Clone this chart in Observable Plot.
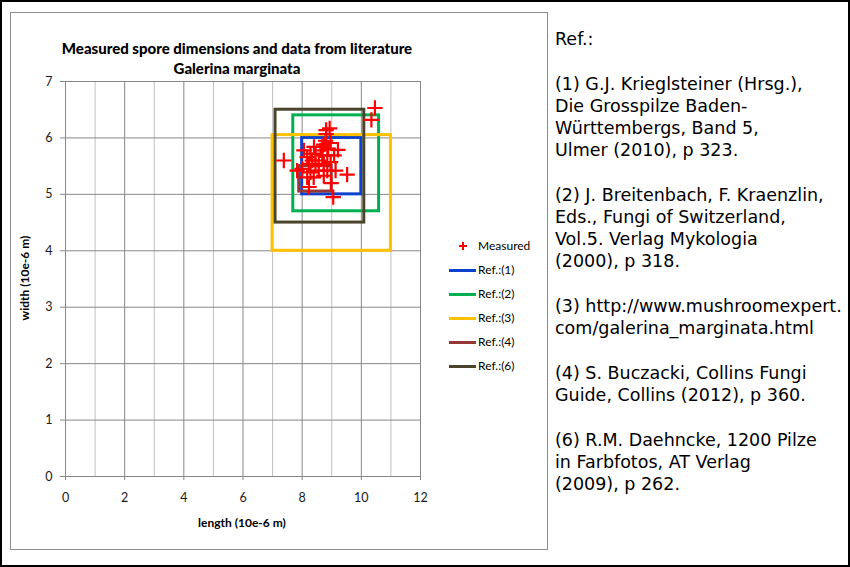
<!DOCTYPE html>
<html><head><meta charset="utf-8">
<script src="https://cdn.jsdelivr.net/npm/d3@7"></script>
<script src="https://cdn.jsdelivr.net/npm/@observablehq/plot@0.6"></script>
<style>
body{margin:0;background:#fff;}
#page{position:relative;width:850px;height:567px;overflow:hidden;background:#fff;font-family:Lato,sans-serif;color:#000;}
#outer{position:absolute;left:0;top:0;width:850px;height:567px;box-sizing:border-box;border:2px solid #000;}
#panel{position:absolute;left:10px;top:12px;width:538px;height:538px;box-sizing:border-box;border:1px solid #8c8c8c;}
#chart{position:absolute;left:10px;top:12px;}
#title{position:absolute;left:37px;top:38px;width:400px;text-align:center;font-weight:900;font-size:15px;line-height:20px;}
#xlab{position:absolute;left:142px;top:515px;width:200px;text-align:center;font-weight:bold;font-size:12px;line-height:16px;}
#ylab{position:absolute;left:-75px;top:270px;width:200px;text-align:center;font-weight:bold;font-size:12px;line-height:16px;transform:rotate(-90deg);}
.li{position:absolute;left:440px;height:16px;line-height:16px;font-size:12px;white-space:nowrap;}
.li .t{position:absolute;left:38px;top:0;}
.li .ln{position:absolute;left:9px;top:7px;width:27px;height:3px;}
.li .ph{position:absolute;left:19px;top:7px;width:8px;height:2px;background:#ff0000;}
.li .pv{position:absolute;left:22px;top:4px;width:2px;height:8px;background:#ff0000;}
#refs{position:absolute;left:555px;top:28px;font-family:"DejaVu Sans",Verdana,sans-serif;font-size:17.5px;line-height:22px;white-space:nowrap;color:#000;}
#refs p{margin:0 0 23px 0;}
</style></head>
<body><div id="page">
<div id="outer"></div>
<div id="panel"></div>
<div id="chart"></div>
<div id="title">Measured spore dimensions and data from literature<br>Galerina marginata</div>
<div id="xlab">length (10e-6 m)</div>
<div id="ylab">width (10e-6 m)</div>
<div id="legend"></div>
<div id="refs"></div>
</div>
<script>
// Measured spores (length, width in 10e-6 m)
const measuredLength = [10.46,10.34,8.81,8.93,8.81,8.73,8.96,8.88,9.21,8.68,8.45,8.68,8.85,8.17,8.06,8.34,8.56,8.23,8.45,8.73,8.96,9.13,8.85,8.56,8.28,8.00,7.83,8.17,8.39,8.73,9.52,7.38,8.23,8.98,9.05,8.62,8.40,8.28,9.08,8.79];
const measuredWidth  = [6.53,6.32,6.14,6.17,6.07,5.88,5.91,5.81,5.79,5.84,5.72,5.69,5.69,5.66,5.78,5.60,5.60,5.54,5.51,5.54,5.57,5.42,5.42,5.42,5.39,5.45,5.42,5.30,5.30,5.33,5.35,5.60,5.13,5.20,4.95,5.78,5.84,5.72,5.69,5.95];

// Literature ranges
const refNames = ["Ref.:(1)","Ref.:(2)","Ref.:(3)","Ref.:(4)","Ref.:(6)"];
const refLenMin = [8, 7.7, 7, 7.9, 7.1];
const refLenMax = [10, 10.6, 11, 9, 10.1];
const refWidMin = [5, 4.7, 4, 5.05, 4.5];
const refWidMax = [6, 6.4, 6.05, 5.5, 6.5];
const refColors = ["#0b41cd","#00b050","#ffc000","#953735","#4a452a"];

const xTicks = [0,1,2,3,4,5,6,7,8,9,10,11,12];
const xLabelTicks = [0,2,4,6,8,10,12];
const yTicks = [0,1,2,3,4,5,6,7];

const refText = [
  ["Ref.:"],
  ["(1) G.J. Krieglsteiner (Hrsg.),","Die Grosspilze Baden-","Württembergs, Band 5,","Ulmer (2010), p 323."],
  ["(2) J. Breitenbach, F. Kraenzlin,","Eds., Fungi of Switzerland,","Vol.5. Verlag Mykologia","(2000), p 318."],
  ["(3) http://www.mushroomexpert.","com/galerina_marginata.html"],
  ["(4) S. Buczacki, Collins Fungi","Guide, Collins (2012), p 360."],
  ["(6) R.M. Daehncke, 1200 Pilze","in Farbfotos, AT Verlag","(2009), p 262."]
];

const measured = measuredLength.map((l, i) => ({length: l, width: measuredWidth[i]}));
const refs = refNames.map((n, i) => ({name: n, lmin: refLenMin[i], lmax: refLenMax[i], wmin: refWidMin[i], wmax: refWidMax[i], color: refColors[i]}));

const chart = Plot.plot({
  width: 538, height: 537,
  marginLeft: 55, marginRight: 128, marginTop: 69, marginBottom: 73,
  style: {fontFamily: "Lato, sans-serif", fontSize: "12.5px", color: "#1a1a1a", background: "transparent", overflow: "visible"},
  x: {domain: [0, 12], label: null},
  y: {domain: [0, 7], label: null},
  color: {type: "identity"},
  marks: [
    Plot.ruleX(xTicks, {stroke: d => d % 2 === 0 ? "#878787" : "#c0c0c0"}),
    Plot.ruleY(yTicks, {stroke: "#878787"}),
    Plot.axisX({ticks: xLabelTicks, tickFormat: d3.format("d"), tickSize: 4, tickPadding: 13, stroke: "#878787", label: null}),
    Plot.axisY({ticks: yTicks, tickFormat: d3.format("d"), tickSize: 5, tickPadding: 8, stroke: "#878787", label: null}),
    Plot.rect(refs, {x1: "lmin", x2: "lmax", y1: "wmin", y2: "wmax", stroke: "color", fill: "none", strokeWidth: 3}),
    Plot.dot(measured, {x: "length", y: "width", symbol: "plus", r: 5, stroke: "#ff0000", strokeWidth: 2.2})
  ]
});
document.getElementById("chart").appendChild(chart);

// Legend
const legend = document.getElementById("legend");
const items = [{name: "Measured", color: null}].concat(refs.map(r => ({name: r.name, color: r.color})));
items.forEach((it, i) => {
  const d = document.createElement("div");
  d.className = "li";
  d.style.top = (238 + i * 24) + "px";
  if (it.color === null) {
    d.innerHTML = '<div class="ph"></div><div class="pv"></div>';
  } else {
    d.innerHTML = '<div class="ln" style="background:' + it.color + '"></div>';
  }
  const t = document.createElement("div");
  t.className = "t";
  t.textContent = it.name;
  d.appendChild(t);
  legend.appendChild(d);
});

// Reference text
const refsDiv = document.getElementById("refs");
refText.forEach(lines => {
  const p = document.createElement("p");
  lines.forEach((ln, j) => {
    if (j) p.appendChild(document.createElement("br"));
    p.appendChild(document.createTextNode(ln));
  });
  refsDiv.appendChild(p);
});
</script>
</body></html>
